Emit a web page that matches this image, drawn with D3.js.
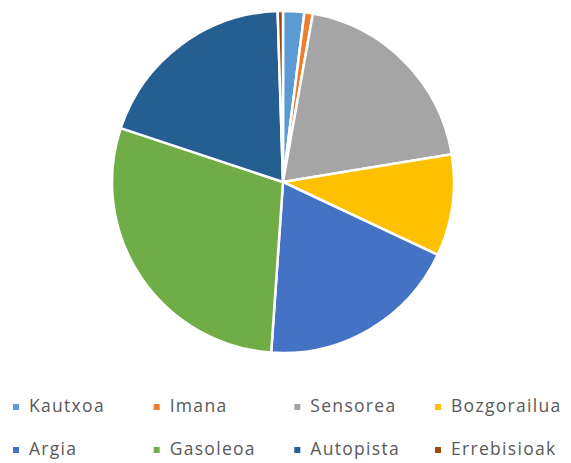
<!DOCTYPE html>
<html>
<head>
<meta charset="utf-8">
<script src="https://cdn.jsdelivr.net/npm/d3@7"></script>
<style>
  body { margin: 0; background: #fff; }
</style>
</head>
<body>
<div id="chart"></div>
<script>
// values (share of the pie, in %)
var categories = ["Kautxoa", "Imana", "Sensorea", "Bozgorailua", "Argia", "Gasoleoa", "Autopista", "Errebisioak"];
var values = [2.0, 0.8, 19.6, 9.6, 19.1, 29.0, 19.4, 0.5];
var colors = ["#5B9BD5", "#ED7D31", "#A5A5A5", "#FFC000", "#4472C4", "#70AD47", "#255E91", "#9E480E"];

var width = 571, height = 463;
var cx = 283, cy = 182, radius = 171;

var svg = d3.select("#chart").append("svg")
    .attr("width", width)
    .attr("height", height);

var data = categories.map(function(c, i) { return {name: c, value: values[i], color: colors[i]}; });

var pie = d3.pie().sort(null).value(function(d) { return d.value; });
var arc = d3.arc().innerRadius(0).outerRadius(radius);

svg.append("g")
    .attr("transform", "translate(" + cx + "," + cy + ")")
    .selectAll("path")
    .data(pie(data))
    .enter()
    .append("path")
    .attr("d", arc)
    .attr("fill", function(d) { return d.data.color; })
    .attr("stroke", "#fff")
    .attr("stroke-width", 2.5)
    .attr("stroke-linejoin", "round");

// legend, two rows of four
var colX = d3.scalePoint().domain([0, 1, 2, 3]).range([13, 435]);
var rowY = [412, 455];   // text baselines

var item = svg.append("g").selectAll("g")
    .data(data)
    .enter()
    .append("g")
    .attr("transform", function(d, i) { return "translate(" + colX(i % 4) + "," + rowY[Math.floor(i / 4)] + ")"; });

item.append("rect")
    .attr("x", 0).attr("y", -8)
    .attr("width", 6).attr("height", 6)
    .attr("fill", function(d) { return d.color; });

item.append("text")
    .attr("x", 16)
    .text(function(d) { return d.name; })
    .attr("font-family", "'Open Sans', sans-serif")
    .attr("font-size", "17.5px")
    .attr("letter-spacing", "1.3px")
    .attr("fill", "#595959");
</script>
</body>
</html>
